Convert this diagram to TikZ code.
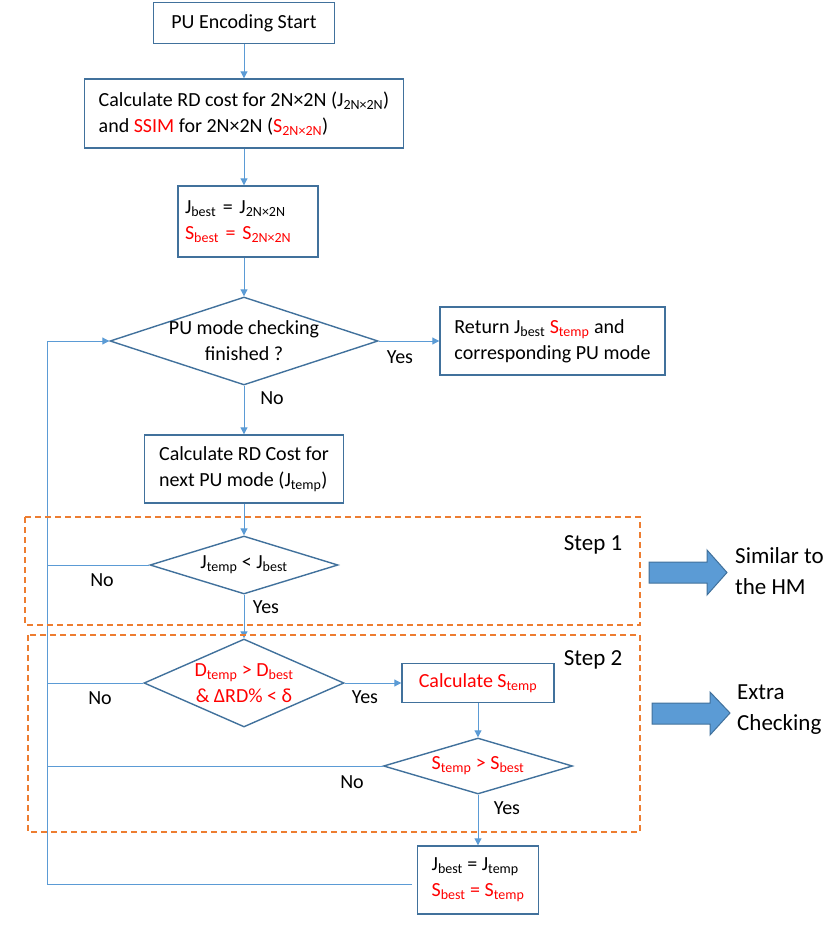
\documentclass[tikz,border=0pt]{standalone}
\usepackage{fontspec}
\setmainfont{Carlito}
\usetikzlibrary{shapes.geometric,arrows.meta}
\definecolor{boxblue}{HTML}{41719C}
\definecolor{lineblue}{HTML}{5B9BD5}
\definecolor{stepor}{HTML}{ED7D31}
\newcommand{\subt}[1]{\textsubscript{#1}}

\begin{document}
\begin{tikzpicture}[x=1pt,y=-1pt,
  font=\fontsize{20}{26}\selectfont,
  box/.style={draw=boxblue,line width=1.4pt,rectangle,align=left,inner sep=0pt},
  chkbox/.style={draw=boxblue,line width=1.4pt,diamond,align=center,inner sep=0pt},
  flow/.style={draw=lineblue,line width=1pt,-{Triangle[width=7pt,length=7pt]}},
  back/.style={draw=lineblue,line width=1pt},
  stepframe/.style={draw=stepor,line width=1.5pt,dash pattern=on 6pt off 4pt},
  bigarrow/.style={fill=lineblue,draw=boxblue,line width=1pt},
  side/.style={font=\fontsize{23}{31}\selectfont,align=left,inner sep=0pt}]
\useasboundingbox (0,0) rectangle (827,935);

\node[box,minimum width=181,minimum height=41] (start) at (244,23) {PU Encoding Start};
\node[box,minimum width=319,minimum height=69] (rdcost) at (244,113.5) {Calculate RD cost for 2N×2N (J\subt{2N×2N})\\and {\color{red}SSIM} for 2N×2N ({\color{red}S\subt{2N×2N}})};
\node[box,minimum width=140,minimum height=71,text width=126,inner xsep=7pt] (init) at (248,221.5) {J\subt{best} = J\subt{2N×2N}\\{\color{red}S\subt{best} = S\subt{2N×2N}}};
\node[chkbox,aspect=3.05,minimum width=268,minimum height=88,inner sep=-2pt] (chk) at (244,341) {PU mode checking\\finished ?};
\node[box,minimum width=225,minimum height=68] (ret) at (552.5,341) {Return J\subt{best} {\color{red}S\subt{temp}} and\\corresponding PU mode};
\node[box,minimum width=199,minimum height=68] (nextpu) at (244,469) {Calculate RD Cost for\\next PU mode (J\subt{temp})};
\node[chkbox,aspect=3.24,minimum width=188,minimum height=58] (jcmp) at (244,565) {J\subt{temp} < J\subt{best}};
\node[chkbox,aspect=2.27,minimum width=200,minimum height=88,text=red] (dcmp) at (244,683) {D\subt{temp} > D\subt{best}\\\& ΔRD\% < δ};
\node[box,minimum width=152,minimum height=39,text=red] (calcs) at (478,683) {Calculate S\subt{temp}};
\node[chkbox,aspect=3.375,minimum width=189,minimum height=56,text=red] (scmp) at (478,766) {S\subt{temp} > S\subt{best}};
\node[box,minimum width=121,minimum height=68] (fin) at (478,880) {J\subt{best} = J\subt{temp}\\{\color{red}S\subt{best} = S\subt{temp}}};

\coordinate (loopin) at (47,341);
\coordinate (loopout) at (47,884);
\coordinate (finend) at (412,884);

\draw[flow] (start) -- (rdcost);
\draw[flow] (rdcost) -- (rdcost |- init.north);
\draw[flow] (init.south -| chk) -- (chk);
\draw[flow] (chk) -- (ret);
\draw[flow] (chk) -- (nextpu);
\draw[flow] (nextpu) -- (jcmp);
\draw[flow] (jcmp) -- (dcmp);
\draw[flow] (dcmp) -- (calcs);
\draw[flow] (calcs) -- (scmp);
\draw[flow] (scmp) -- (fin);
\draw[back] (jcmp.west) -- (jcmp.west -| loopin);
\draw[back] (dcmp.west) -- (dcmp.west -| loopin);
\draw[back] (scmp.west) -- (scmp.west -| loopin);
\draw[back] (finend) -- (loopout) -- (loopin);
\draw[flow] (loopin) -- (chk.west);

\node (yes1) at (400,357) {Yes};
\node (no1) at (272,398) {No};
\node (no2) at (102,580) {No};
\node (yes2) at (266,607) {Yes};
\node (no3) at (100,698) {No};
\node (yes3) at (365,697) {Yes};
\node (no4) at (352,782) {No};
\node (yes4) at (507,808) {Yes};

\draw[stepframe] (25,517) rectangle (640,625);
\draw[stepframe] (28,635) rectangle (640,832);
\node[side] (step1) at (593,545) {Step 1};
\node[side] (step2) at (593,660) {Step 2};

\filldraw[bigarrow] (649,562) -- (707,562) -- (707,550) -- (727,572.5) -- (707,595) -- (707,583) -- (649,583) -- cycle;
\filldraw[bigarrow] (652,703) -- (710,703) -- (710,692) -- (730,713) -- (710,735) -- (710,724) -- (652,724) -- cycle;
\node[side,anchor=west] (hm) at (735,571) {Similar to\\the HM};
\node[side,anchor=west] (extra) at (737,710) {Extra\\Checking};

\end{tikzpicture}
\end{document}
